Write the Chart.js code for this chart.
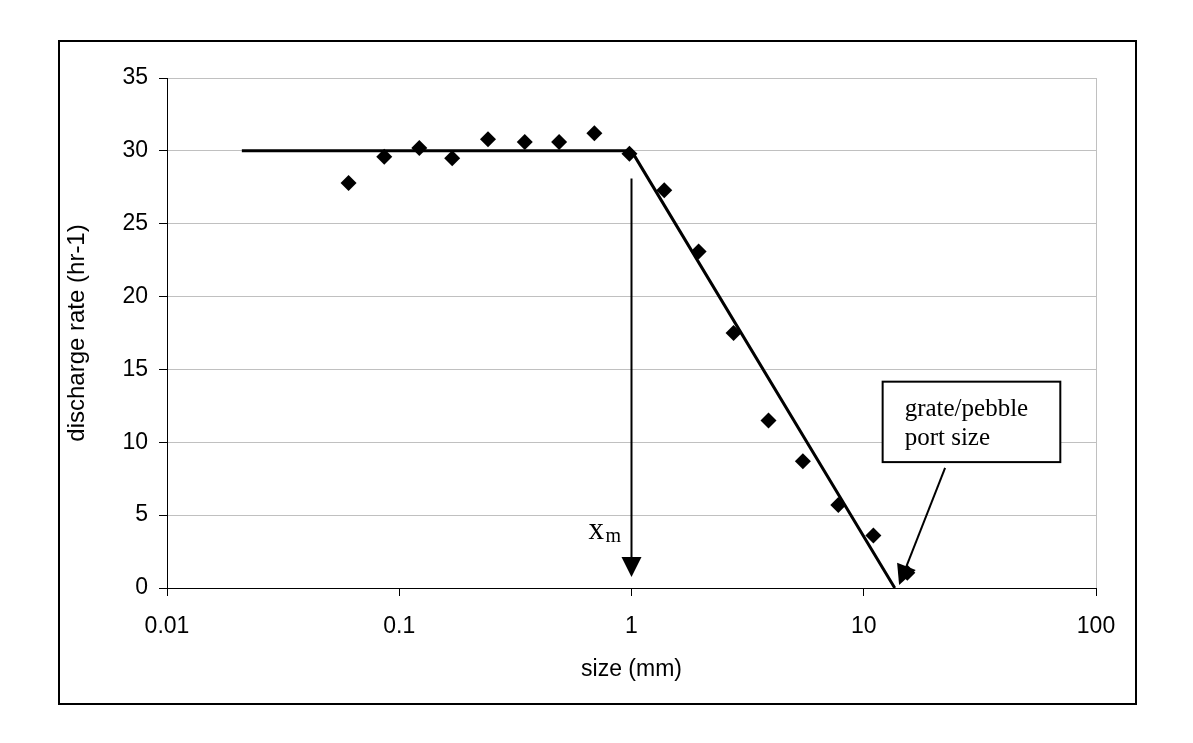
<!DOCTYPE html>
<html><head><meta charset="utf-8">
<script src="https://cdn.jsdelivr.net/npm/chart.js@4.4.0/dist/chart.umd.min.js"></script>
<style>html,body{margin:0;padding:0;background:#fff;}</style>
</head><body>
<canvas id="c" width="1193" height="743" style="display:block;width:1193px;height:743px"></canvas>
<script>
// ---- data ----
const sizes = [0.0605, 0.0862, 0.122, 0.169, 0.241, 0.347, 0.488, 0.692, 0.98, 1.384, 1.945, 2.75, 3.89, 5.47, 7.77, 11.0, 15.4];
const discharge = [27.8, 29.6, 30.2, 29.5, 30.8, 30.6, 30.6, 31.2, 29.8, 27.3, 23.1, 17.5, 11.5, 8.7, 5.7, 3.6, 1.05];
const fitSizes = [0.021, 1, 13.6];
const fitRates = [30, 30, 0];
const xTickValues = [0.01, 0.1, 1, 10, 100];
const xTickLabels = ['0.01', '0.1', '1', '10', '100'];
const yTickValues = [0, 5, 10, 15, 20, 25, 30, 35];
const xTitle = 'size (mm)';
const yTitle = 'discharge rate (hr-1)';
const calloutLines = ['grate/pebble', 'port size'];
const xmLabel = ['x', 'm'];
// annotation anchors in data units
const xmArrow = [1, 28.1, 1, 0.75];          // x, yFrom, x, yTo
const calloutBox = [12.06, 14.16, 70.2, 8.64]; // xLeft, yTop, xRight, yBottom
const calloutArrow = [22.4, 8.25, 14.2, 0.2]; // from (x,y) to (x,y)

const SANS = '"Liberation Sans", Arial, sans-serif';
const SERIF = '"Liberation Serif", "Times New Roman", serif';

function drawArrow(ctx, x0, y0, x1, y1) {
  const a = Math.atan2(y1 - y0, x1 - x0);
  const L = 20, W = 10;
  const bx = x1 - L * Math.cos(a), by = y1 - L * Math.sin(a);
  ctx.strokeStyle = '#000'; ctx.fillStyle = '#000'; ctx.lineWidth = 2;
  ctx.beginPath(); ctx.moveTo(x0, y0); ctx.lineTo(bx, by); ctx.stroke();
  ctx.beginPath(); ctx.moveTo(x1, y1);
  ctx.lineTo(bx + W * Math.sin(a), by - W * Math.cos(a));
  ctx.lineTo(bx - W * Math.sin(a), by + W * Math.cos(a));
  ctx.closePath(); ctx.fill();
}

const annot = {
  id: 'annot',
  afterDatasetsDraw(chart) {
    const ctx = chart.ctx, xs = chart.scales.x, ys = chart.scales.y;
    const px = v => xs.getPixelForValue(v), py = v => ys.getPixelForValue(v);
    ctx.save();
    // x_m arrow
    drawArrow(ctx, px(xmArrow[0]), py(xmArrow[1]), px(xmArrow[2]), py(xmArrow[3]));
    // x_m label
    const ax = px(xmArrow[0]);
    const by = py(xmArrow[3]) - 38;
    ctx.fillStyle = '#000';
    ctx.textBaseline = 'alphabetic';
    ctx.textAlign = 'left';
    ctx.font = '31px ' + SERIF;
    ctx.fillText(xmLabel[0], ax - 43, by);
    ctx.font = '20px ' + SERIF;
    ctx.fillText(xmLabel[1], ax - 26, by + 3);
    // callout box
    const bx0 = px(calloutBox[0]), by0 = py(calloutBox[1]), bx1 = px(calloutBox[2]), by1 = py(calloutBox[3]);
    ctx.fillStyle = '#fff';
    ctx.fillRect(bx0, by0, bx1 - bx0, by1 - by0);
    ctx.strokeStyle = '#000'; ctx.lineWidth = 2;
    ctx.strokeRect(bx0, by0, bx1 - bx0, by1 - by0);
    ctx.fillStyle = '#000';
    ctx.font = '25px ' + SERIF;
    ctx.fillText(calloutLines[0], bx0 + 22, by0 + 34);
    ctx.fillText(calloutLines[1], bx0 + 22, by0 + 63);
    // callout arrow
    drawArrow(ctx, px(calloutArrow[0]), py(calloutArrow[1]), px(calloutArrow[2]), py(calloutArrow[3]));
    ctx.restore();
  },
  afterDraw(chart) {
    const ctx = chart.ctx;
    ctx.save();
    ctx.strokeStyle = '#000'; ctx.lineWidth = 2;
    ctx.strokeRect(59, 41, 1077, 663);
    ctx.restore();
  }
};

const font = { family: SANS, size: 23 };
const yTitleFont = { family: SANS, size: 24 };

new Chart(document.getElementById('c'), {
  type: 'scatter',
  data: {
    datasets: [
      {
        label: 'measured',
        data: sizes.map((s, i) => ({ x: s, y: discharge[i] })),
        pointStyle: 'rectRot', pointRadius: 8, pointHoverRadius: 8,
        backgroundColor: '#000', borderColor: '#000', borderWidth: 0,
        showLine: false, order: 0
      },
      {
        label: 'fit',
        data: fitSizes.map((s, i) => ({ x: s, y: fitRates[i] })),
        showLine: true, borderColor: '#000', borderWidth: 3,
        pointRadius: 0, pointHoverRadius: 0, order: 1
      }
    ]
  },
  options: {
    responsive: false,
    devicePixelRatio: 1,
    animation: false,
    events: [],
    layout: { padding: { top: 78, right: 97, left: 0, bottom: 0 } },
    plugins: { legend: { display: false }, tooltip: { enabled: false } },
    scales: {
      x: {
        type: 'logarithmic', position: 'bottom', min: 0.01, max: 100,
        afterBuildTicks(s) { s.ticks = xTickValues.map(v => ({ value: v, major: true })); },
        afterFit(s) { s.height = 155; },
        ticks: {
          callback(v) { const i = xTickValues.findIndex(t => Math.abs(t - v) / t < 1e-6); return i >= 0 ? xTickLabels[i] : ''; },
          font, color: '#000', padding: 17, maxRotation: 0, autoSkip: false
        },
        grid: {
          color: c => (c.tick && Math.abs(c.tick.value - 100) < 1e-6) ? '#c0c0c0' : 'rgba(0,0,0,0)',
          tickColor: '#000', tickLength: 8, lineWidth: 1
        },
        border: { color: '#000', width: 1 },
        title: { display: true, text: xTitle, font, color: '#000', padding: { top: 0, bottom: 60 } }
      },
      y: {
        type: 'linear', min: 0, max: 35,
        afterBuildTicks(s) { s.ticks = yTickValues.map(v => ({ value: v })); },
        afterFit(s) { s.width = 167; },
        ticks: { font, color: '#000', padding: 11 },
        grid: {
          color: c => (c.tick && c.tick.value === 0) ? 'rgba(0,0,0,0)' : '#c0c0c0',
          tickColor: '#000', tickLength: 8, lineWidth: 1
        },
        border: { color: '#000', width: 1 },
        title: { display: true, text: yTitle, font: yTitleFont, color: '#000', padding: { top: 63, bottom: 0 } }
      }
    }
  },
  plugins: [annot]
});
</script>
</body></html>
